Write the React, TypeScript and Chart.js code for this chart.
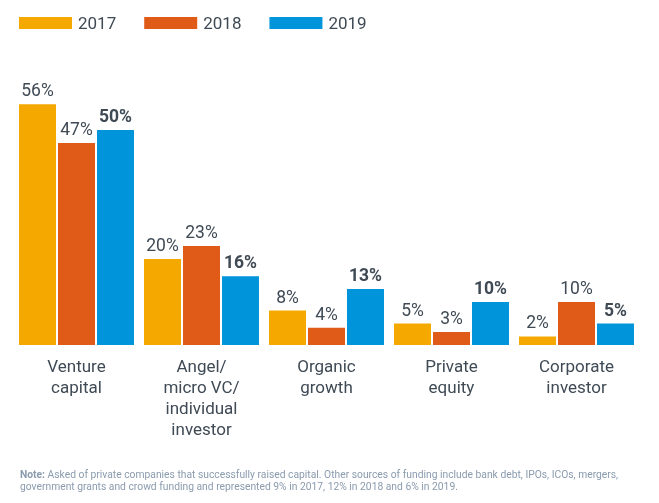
import React, { useEffect, useRef } from "react";
import { Chart, registerables } from "chart.js";

Chart.register(...registerables);

const categories: string[][] = [
  ["Venture", "capital"],
  ["Angel/", "micro VC/", "individual", "investor"],
  ["Organic", "growth"],
  ["Private", "equity"],
  ["Corporate", "investor"],
];
const seriesLabels = ["2017", "2018", "2019"];
const values2017 = [56, 20, 8, 5, 2];
const values2018 = [47, 23, 4, 3, 10];
const values2019 = [50, 16, 13, 10, 5];
const seriesColors = ["#F5A800", "#E05A18", "#0095DA"];
const boldSeries = [false, false, true];
const noteLead = "Note:";
const noteLine1 =
  " Asked of private companies that successfully raised capital. Other sources of funding include bank debt, IPOs, ICOs, mergers,";
const noteLine2 =
  "government grants and crowd funding and represented 9% in 2017, 12% in 2018 and 6% in 2019.";

const TEXT = "#3F4A55";
const FONT = "Roboto, 'Noto Sans', sans-serif";

const valueLabelPlugin = {
  id: "valueLabels",
  afterDatasetsDraw(chart: any) {
    const ctx = chart.ctx;
    ctx.save();
    ctx.fillStyle = TEXT;
    ctx.textAlign = "center";
    ctx.textBaseline = "alphabetic";
    chart.data.datasets.forEach((ds: any, di: number) => {
      const meta = chart.getDatasetMeta(di);
      ctx.font = `${boldSeries[di] ? "bold" : "normal"} 17.5px ${FONT}`;
      meta.data.forEach((bar: any, i: number) => {
        ctx.fillText(`${ds.data[i]}%`, bar.x, bar.y - 8);
      });
    });
    ctx.restore();
  },
};

const legendPlugin = {
  id: "customLegend",
  afterDraw(chart: any) {
    const ctx = chart.ctx;
    ctx.save();
    ctx.font = `normal 17px ${FONT}`;
    ctx.textBaseline = "alphabetic";
    ctx.textAlign = "left";
    let x = 19;
    chart.data.datasets.forEach((ds: any) => {
      ctx.fillStyle = ds.backgroundColor;
      ctx.fillRect(x, 17, 53, 12);
      ctx.fillStyle = TEXT;
      ctx.fillText(ds.label, x + 59, 29);
      x += 59 + ctx.measureText(ds.label).width + 28;
    });
    ctx.restore();
  },
};

export default function App() {
  const canvasRef = useRef<HTMLCanvasElement | null>(null);

  useEffect(() => {
    if (!canvasRef.current) return;
    const seriesValues = [values2017, values2018, values2019];
    const chart = new Chart(canvasRef.current, {
      type: "bar",
      data: {
        labels: categories,
        datasets: seriesLabels.map((label, i) => ({
          label,
          data: seriesValues[i],
          backgroundColor: seriesColors[i],
          borderWidth: 0,
          categoryPercentage: 0.936,
          barPercentage: 0.9487,
        })),
      },
      options: {
        animation: false,
        responsive: true,
        maintainAspectRatio: false,
        devicePixelRatio: 1,
        layout: { padding: { top: 87, left: 14, right: 20, bottom: 0 } },
        plugins: {
          legend: { display: false },
          tooltip: { enabled: false },
          title: { display: false },
        },
        scales: {
          x: {
            grid: { display: false, drawTicks: false },
            border: { display: false },
            ticks: {
              color: TEXT,
              font: { family: FONT, size: 17, lineHeight: 21 / 17 },
              padding: 12,
              maxRotation: 0,
              minRotation: 0,
              autoSkip: false,
            },
            afterFit: (scale: any) => {
              scale.height = 158;
            },
          },
          y: {
            display: false,
            min: 0,
            max: 60,
          },
        },
      },
      plugins: [valueLabelPlugin, legendPlugin],
    });
    return () => chart.destroy();
  }, []);

  return (
    <div
      style={{
        position: "absolute",
        left: 0,
        top: 0,
        width: 659,
        height: 503,
        background: "#ffffff",
        overflow: "hidden",
      }}
    >
      <canvas ref={canvasRef} style={{ position: "absolute", left: 0, top: 0 }} />
      <div
        style={{
          position: "absolute",
          left: 20,
          top: 468.5,
          fontFamily: FONT,
          fontSize: 10.3,
          lineHeight: "12.8px",
          color: "#8A9BAE",
          whiteSpace: "nowrap",
        }}
      >
        <div>
          <b>{noteLead}</b>
          {noteLine1}
        </div>
        <div>{noteLine2}</div>
      </div>
    </div>
  );
}
